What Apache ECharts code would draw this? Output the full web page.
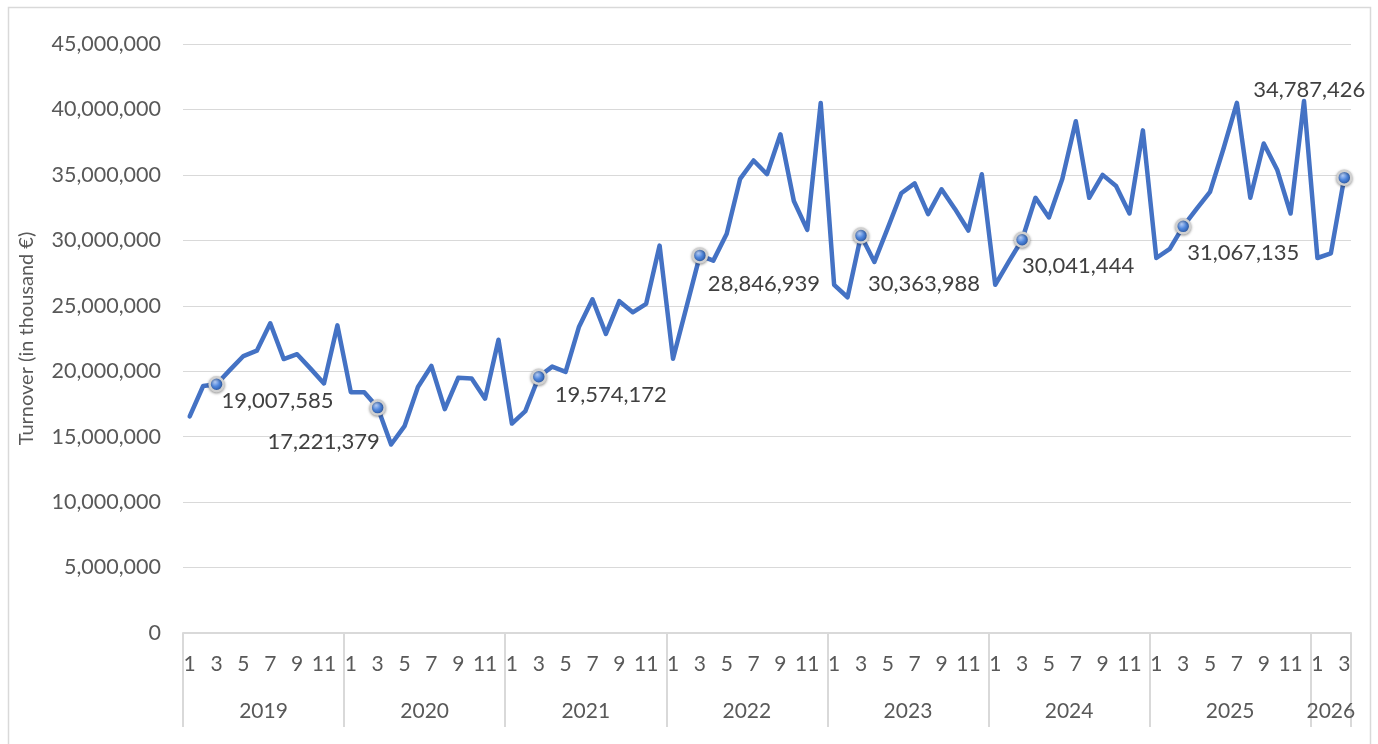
<!DOCTYPE html>
<html>
<head>
<meta charset="utf-8">
<script src="https://cdn.jsdelivr.net/npm/echarts@6/dist/echarts.min.js"></script>
<style>html,body{margin:0;padding:0;background:#fff;}#c{width:1378px;height:744px;}</style>
</head>
<body>
<div id="c"></div>
<script>
// ---- data ----
const years = ['2019','2020','2021','2022','2023','2024','2025','2026'];
const monthsPerYear = [12,12,12,12,12,12,12,3];
const monthTickLabels = ['1','2','3','4','5','6','7','8','9','10','11','12'];
const turnover2019 = [16550000,18870000,19007585,20100000,21160000,21570000,23660000,20930000,21300000,20200000,19070000,23500000];
const turnover2020 = [18400000,18400000,17221379,14400000,15800000,18800000,20400000,17100000,19500000,19450000,17900000,22400000];
const turnover2021 = [16000000,16950000,19574172,20350000,19950000,23400000,25500000,22850000,25350000,24500000,25150000,29600000];
const turnover2022 = [20950000,24900000,28846939,28450000,30500000,34700000,36100000,35050000,38100000,33000000,30800000,40500000];
const turnover2023 = [26600000,25650000,30363988,28350000,30950000,33600000,34350000,32000000,33900000,32400000,30750000,35050000];
const turnover2024 = [26600000,28350000,30041444,33250000,31750000,34700000,39100000,33250000,35000000,34150000,32050000,38400000];
const turnover2025 = [28650000,29350000,31067135,32400000,33700000,37000000,40500000,33250000,37400000,35400000,32050000,40650000];
const turnover2026 = [28650000,29000000,34787426];
const yTicks = {min:0, max:45000000, interval:5000000};

// ---- label placement (style, not data) ----
const labelPlacement = {
  '2019-3': {align:'left', offset:[5,17]},
  '2020-3': {align:'right', offset:[2,34]},
  '2021-3': {align:'left', offset:[16,18]},
  '2022-3': {align:'left', offset:[8,28]},
  '2023-3': {align:'left', offset:[7,48]},
  '2024-3': {align:'left', offset:[0,26]},
  '2025-3': {align:'left', offset:[4,27]},
  '2026-3': {align:'left', offset:[-91,-88]}
};

const allYears = [turnover2019,turnover2020,turnover2021,turnover2022,turnover2023,turnover2024,turnover2025,turnover2026];
const categories = [];
const monthLabels = [];
const seriesData = [];
years.forEach((y, yi) => {
  for (let m = 0; m < monthsPerYear[yi]; m++) {
    const key = y + '-' + (m + 1);
    categories.push(key);
    monthLabels.push(monthTickLabels[m]);
    const v = allYears[yi][m];
    const lp = labelPlacement[key];
    if (lp) {
      seriesData.push({
        value: v,
        symbol: 'circle',
        symbolSize: 14,
        itemStyle: {
          color: {type:'radial', x:0.4, y:0.35, r:0.65, colorStops:[
            {offset:0, color:'#b8d0fa'}, {offset:0.45, color:'#4f86dc'}, {offset:1, color:'#23509e'}]},
          borderColor: '#d0d0d0', borderWidth: 2.5,
          shadowColor: 'rgba(0,0,0,0.35)', shadowBlur: 3, shadowOffsetY: 1
        },
        label: {
          show: true, position: 'inside', align: lp.align, verticalAlign: 'middle',
          offset: lp.offset,
          formatter: (p) => p.value.toLocaleString('en-US'),
          color: '#404040', fontFamily: 'Lato', fontSize: 22
        }
      });
    } else {
      seriesData.push(v);
    }
  }
});

// half-month boundary axis for year labels and separators
const totalMonths = categories.length;
const halfCats = [];
for (let k = 0; k <= totalMonths * 2; k++) halfCats.push(String(k));
const yearCenters = {};
const yearBoundaries = new Set([totalMonths * 2]);
let start = 0;
years.forEach((y, yi) => {
  yearBoundaries.add(start * 2);
  yearCenters[start * 2 + monthsPerYear[yi]] = y;
  start += monthsPerYear[yi];
});

const chart = echarts.init(document.getElementById('c'), null, {renderer:'canvas'});
const axisColor = '#595959';
chart.setOption({
  animation: false,
  backgroundColor: '#ffffff',
  grid: {left: 183, right: 27, top: 44, bottom: 111},
  graphic: [{
    type: 'rect', shape: {x: 8.5, y: 7.5, width: 1362, height: 760},
    style: {fill: 'none', stroke: '#d9d9d9', lineWidth: 1.5}, silent: true
  }],
  xAxis: [{
    type: 'category', data: categories, boundaryGap: true,
    axisLine: {show: true, lineStyle: {color: '#d9d9d9', width: 2}},
    axisTick: {show: false},
    axisLabel: {
      interval: 1, margin: 21, color: axisColor, fontFamily: 'Lato', fontSize: 21,
      formatter: (v, i) => monthLabels[i]
    },
    splitLine: {show: false}
  }, {
    type: 'category', data: halfCats, boundaryGap: false, position: 'bottom',
    axisLine: {show: false},
    axisTick: {show: true, length: 94, interval: (i) => yearBoundaries.has(i),
      lineStyle: {color: '#d9d9d9', width: 2}},
    axisLabel: {
      interval: (i) => yearCenters[i] !== undefined, margin: 68,
      color: axisColor, fontFamily: 'Lato', fontSize: 21,
      formatter: (v, i) => yearCenters[i] || ''
    },
    splitLine: {show: false}
  }],
  yAxis: {
    type: 'value', min: yTicks.min, max: yTicks.max, interval: yTicks.interval,
    name: 'Turnover (in thousand €)', nameLocation: 'middle', nameRotate: 90, nameGap: 146,
    nameTextStyle: {color: axisColor, fontFamily: 'Lato', fontSize: 20},
    axisLine: {show: false}, axisTick: {show: false},
    axisLabel: {margin: 22, color: axisColor, fontFamily: 'Lato', fontSize: 21.5,
      formatter: (v) => v.toLocaleString('en-US')},
    splitLine: {lineStyle: {color: '#d9d9d9', width: 1}}
  },
  series: [{
    type: 'line', xAxisIndex: 0, data: seriesData,
    symbol: 'none', showSymbol: true,
    lineStyle: {color: '#4472C4', width: 4.5, cap: 'round', join: 'round'},
    itemStyle: {color: '#4472C4'},
    z: 3
  }]
});
</script>
</body>
</html>
